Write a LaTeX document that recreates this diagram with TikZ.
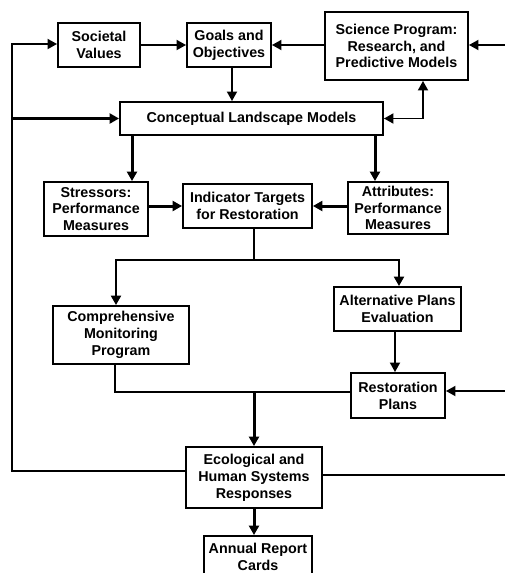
\documentclass[tikz,border=0pt]{standalone}
\usepackage{fontspec}
\setmainfont{Liberation Sans}
\usetikzlibrary{arrows.meta}
\begin{document}
\begin{tikzpicture}[x=1pt,y=-1pt,
  box/.style={draw,line width=1.9pt,font=\bfseries\fontsize{14.3}{16.8}\selectfont,align=center,inner sep=0pt},
  thinln/.style={line width=1.8pt},
  thickln/.style={line width=3pt},
  tip/.style={-{Triangle[length=9.5pt,width=10pt]}},
  tips/.style={{Triangle[length=9.5pt,width=10pt]}-{Triangle[length=9.5pt,width=10pt]}}]
\clip (0,0) rectangle (505,573);
\fill[white] (0,0) rectangle (505,573);
% nodes
\node[box,minimum width=82pt,minimum height=44pt] (soc) at (99,45) {Societal\\Values};
\node[box,minimum width=84pt,minimum height=44pt] (goal) at (229,45) {Goals and\\Objectives};
\node[box,minimum width=143pt,minimum height=68pt] (sci) at (396.5,46) {Science Program:\\Research, and\\Predictive Models};
\node[box,minimum width=263pt,minimum height=33pt] (con) at (251.5,118.5) {Conceptual Landscape Models};
\node[box,minimum width=104pt,minimum height=54pt] (str) at (96,209) {Stressors:\\Performance\\Measures};
\node[box,minimum width=129pt,minimum height=44pt] (ind) at (247.5,206) {Indicator Targets\\for Restoration};
\node[box,minimum width=100pt,minimum height=52pt] (att) at (398,208) {Attributes:\\Performance\\Measures};
\node[box,minimum width=127pt,minimum height=44pt] (alt) at (397.5,309) {Alternative Plans\\Evaluation};
\node[box,minimum width=136pt,minimum height=58pt] (comp) at (121,335) {Comprehensive\\Monitoring\\Program};
\node[box,minimum width=94pt,minimum height=45pt] (rest) at (398,395.5) {Restoration\\Plans};
\node[box,minimum width=136pt,minimum height=61pt] (eco) at (254,477.5) {Ecological and\\Human Systems\\Responses};
\node[box,minimum width=108pt,minimum height=42pt] (ann) at (258,557) {Annual Report\\Cards};
% coordinates
\coordinate (lt) at (12,44);
\coordinate (lm) at (12,118.5);
\coordinate (lb) at (12,471);
\coordinate (r1) at (505,45);
\coordinate (cs) at (423,118.5);
\coordinate (xs) at (132,0);
\coordinate (xa) at (375,0);
\coordinate (sp) at (254,260);
\coordinate (xc) at (116,0);
\coordinate (cb) at (115,392);
\coordinate (mid) at (254,392);
\coordinate (r2) at (505,391);
\coordinate (r3) at (505,475);
% connectors
\draw[thinln,tip] (eco.west |- lb) -- (lb) -- (lt) -- (soc.west |- lt);
\draw[thickln,tip] (lm) -- (con.west);
\draw[thinln,tip] (soc.east) -- (goal.west);
\draw[thinln,tip] (sci.west |- goal.east) -- (goal.east);
\draw[thinln,tip] (r1) -- (sci.east |- r1);
\draw[thinln,tip] (goal.south -| 232,0) -- (con.north -| 232,0);
\draw[thinln,tips] (con.east) -- (cs) -- (cs |- sci.south);
\draw[thickln,tip] (con.south -| xs) -- (str.north -| xs);
\draw[thickln,tip] (con.south -| xa) -- (att.north -| xa);
\draw[thickln,tip] (str.east |- ind.west) -- (ind.west);
\draw[thickln,tip] (att.west |- ind.east) -- (ind.east);
\draw[line width=2.6pt] (ind.south -| sp) -- (sp);
\draw[line width=2.2pt,tip] (sp) -| (comp.north -| xc);
\draw[line width=2.2pt,tip] (sp) -| (alt.north -| 399,0);
\draw[thinln,tip] (alt.south -| 395,0) -- (rest.north -| 395,0);
\draw[thinln] (comp.south -| cb) -- (cb) -- (cb -| rest.west);
\draw[thickln,tip] (mid) -- (eco.north -| mid);
\draw[thinln,tip] (r2) -- (rest.east |- r2);
\draw[thinln] (eco.east |- r3) -- (r3);
\draw[thickln,tip] (eco.south -| mid) -- (ann.north -| mid);
\end{tikzpicture}
\end{document}
